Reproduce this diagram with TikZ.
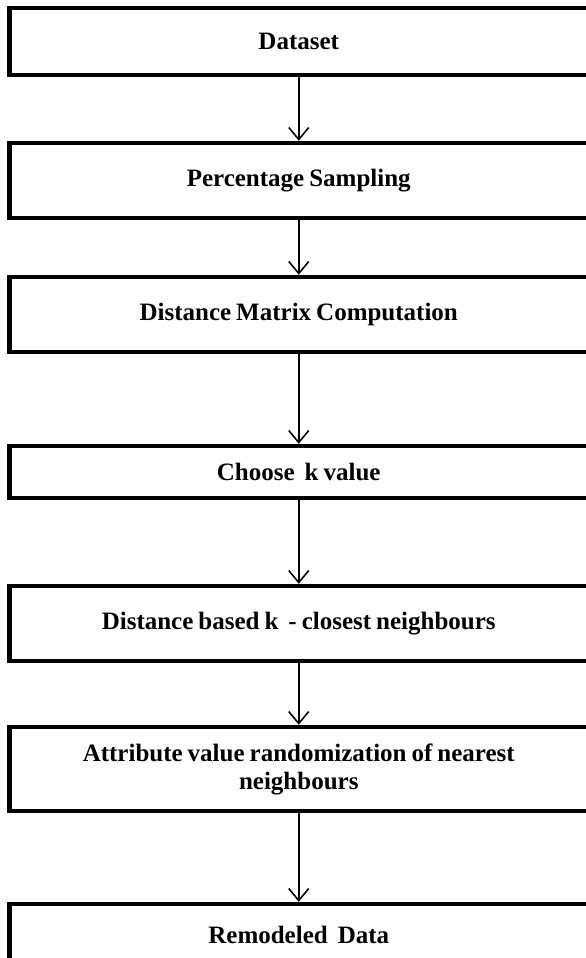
\documentclass[tikz,border=0pt]{standalone}
\usepackage{fontspec}
\setmainfont{Liberation Serif}
\usetikzlibrary{arrows.meta}
\newcommand\mytightsp{\spaceskip=0.2em plus 0.05em\relax}
\tikzset{
  stepbox/.style={draw=black, line width=4.5pt, fill=white, minimum width=578.5pt,
    inner sep=0pt, align=center, font=\fontsize{25pt}{28pt}\selectfont\bfseries\mytightsp},
  flow/.style={line width=1.5pt, -{Straight Barb[length=12pt,width=20pt,line width=1.6pt]}}
}
\begin{document}
\begin{tikzpicture}[x=1pt,y=-1pt]
\useasboundingbox (0,0) rectangle (586,958);
\clip (0,0) rectangle (586,958);
\node[stepbox, minimum height=67pt] (b1) at (298.75,41.5) {Dataset};
\node[stepbox, minimum height=75pt] (b2) at (298.75,180.5) {Percentage Sampling};
\node[stepbox, minimum height=75pt] (b3) at (298.75,314.5) {Distance Matrix Computation};
\node[stepbox, minimum height=52pt] (b4) at (298.75,472) {Choose\ \ k value};
\node[stepbox, minimum height=75pt] (b5) at (298.75,623.5) {Distance based k\ \ - closest neighbours};
\node[stepbox, minimum height=84pt] (b6) at (298.75,769) {Attribute value randomization of nearest\\neighbours};
\node[stepbox, minimum height=62pt] (b7) at (298.75,935) {Remodeled\ \ Data};
\draw[flow] (b1.south) -- (b2.north);
\draw[flow] (b2.south) -- (b3.north);
\draw[flow] (b3.south) -- (b4.north);
\draw[flow] (b4.south) -- (b5.north);
\draw[flow] (b5.south) -- (b6.north);
\draw[flow] (b6.south) -- (b7.north);
\end{tikzpicture}
\end{document}
